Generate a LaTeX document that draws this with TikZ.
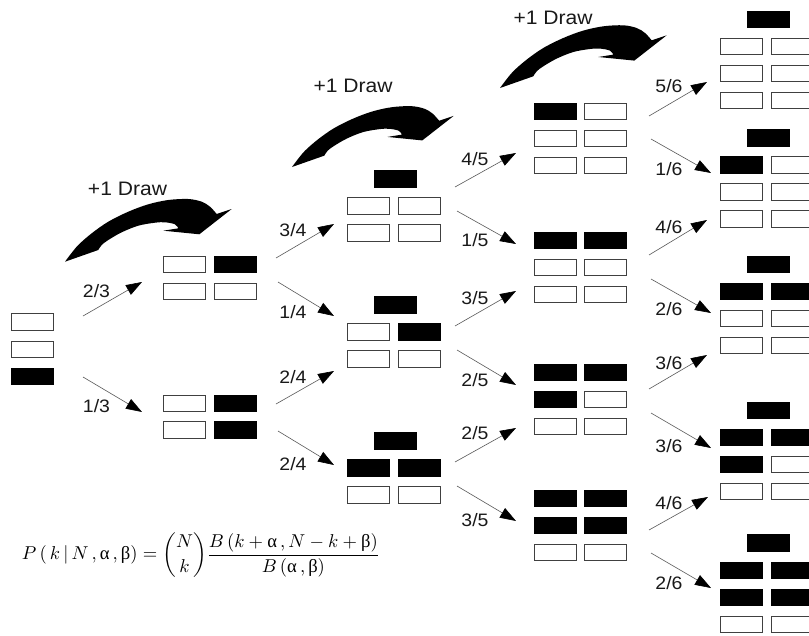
\documentclass[tikz,border=0pt]{standalone}
\usepackage{amsmath}
\usepackage{fontspec}
\usetikzlibrary{arrows.meta}
\newfontfamily\labfont[FakeStretch=1.08]{Liberation Sans}
\newfontfamily\grkfont{Liberation Serif}
\tikzset{
  wb/.style={draw=black!75, line width=0.9pt, fill=white, minimum width=42pt, minimum height=16.5pt, inner sep=0pt},
  bb/.style={draw=black, line width=0.9pt, fill=black, minimum width=42pt, minimum height=16.5pt, inner sep=0pt},
  arr/.style={draw=black!65, line width=0.6pt, -{Triangle[length=16pt,width=11pt,color=black,fill=black]}},
  lab/.style={font=\labfont\fontsize{18}{21}\selectfont, inner sep=0pt, text=black!90},
  drawlab/.style={font=\labfont\fontsize{19.5}{23}\selectfont, inner sep=0pt, text=black!90},
  bigcurve/.pic={
    \fill[black] (0,0) -- plot[smooth,tension=0.55] coordinates {(0,0) (5,-6.7) (13.3,-16.7) (26.7,-28.4) (43.3,-40) (63.3,-50) (83.3,-57.4) (103.3,-61.7) (123.3,-62.7) (136.7,-60) (145,-55) (151.7,-47.7)} -- (166.7,-52.7) -- (134.3,-27.4) -- (98.3,-31) -- (113.3,-33.4) -- plot[smooth,tension=0.55] coordinates {(113.3,-33.4) (110,-37.4) (100,-39.4) (90,-39) (73.3,-36) (56.7,-29.4) (43.3,-21.7) (36.7,-16.7) (33.3,-11.7)} -- cycle;
  }
}
\begin{document}
\begin{tikzpicture}[x=1pt,y=-1pt]
\useasboundingbox[fill=white] (0,0) rectangle (809,635);

% curved "+1 Draw" arrows
\pic (cv1) at (65,261.7) {bigcurve};
\pic[scale=0.97] (cv2) at (292,167) {bigcurve};
\pic (cv3) at (500,88) {bigcurve};
\node[drawlab] (d1) at (127.5,189) {+1 Draw};
\node[drawlab] (d2) at (353,86) {+1 Draw};
\node[drawlab] (d3) at (553,17.5) {+1 Draw};

% column 0
\node[wb] (c0r1) at (32.5,322) {};
\node[wb] (c0r2) at (32.5,349.5) {};
\node[bb] (c0r3) at (32.5,376.5) {};

% column 1
\node[wb] (c1a1l) at (184.5,264.5) {};
\node[bb] (c1a1r) at (235.5,264.5) {};
\node[wb] (c1a2l) at (184.5,291.5) {};
\node[wb] (c1a2r) at (235.5,291.5) {};
\node[wb] (c1b1l) at (184.5,403.5) {};
\node[bb] (c1b1r) at (235.5,403.5) {};
\node[wb] (c1b2l) at (184.5,430) {};
\node[bb] (c1b2r) at (235.5,430) {};

% column 2
\node[bb] (c2at) at (395,179) {};
\node[wb] (c2a1l) at (368,206) {};
\node[wb] (c2a1r) at (419,206) {};
\node[wb] (c2a2l) at (368,233) {};
\node[wb] (c2a2r) at (419,233) {};
\node[bb] (c2bt) at (395,305) {};
\node[wb] (c2b1l) at (368,332) {};
\node[bb] (c2b1r) at (419,332) {};
\node[wb] (c2b2l) at (368,359) {};
\node[wb] (c2b2r) at (419,359) {};
\node[bb] (c2ct) at (395,441) {};
\node[bb] (c2c1l) at (368,468) {};
\node[bb] (c2c1r) at (419,468) {};
\node[wb] (c2c2l) at (368,495) {};
\node[wb] (c2c2r) at (419,495) {};

% column 3
\node[bb] (c3a1l) at (555,111.5) {};
\node[wb] (c3a1r) at (605.5,111.5) {};
\node[wb] (c3a2l) at (555,138.5) {};
\node[wb] (c3a2r) at (605.5,138.5) {};
\node[wb] (c3a3l) at (555,165.5) {};
\node[wb] (c3a3r) at (605.5,165.5) {};
\node[bb] (c3b1l) at (555,240.5) {};
\node[bb] (c3b1r) at (605.5,240.5) {};
\node[wb] (c3b2l) at (555,267.5) {};
\node[wb] (c3b2r) at (605.5,267.5) {};
\node[wb] (c3b3l) at (555,294.5) {};
\node[wb] (c3b3r) at (605.5,294.5) {};
\node[bb] (c3c1l) at (555,372.5) {};
\node[bb] (c3c1r) at (605.5,372.5) {};
\node[bb] (c3c2l) at (555,399.5) {};
\node[wb] (c3c2r) at (605.5,399.5) {};
\node[wb] (c3c3l) at (555,426.5) {};
\node[wb] (c3c3r) at (605.5,426.5) {};
\node[bb] (c3d1l) at (555,498.5) {};
\node[bb] (c3d1r) at (605.5,498.5) {};
\node[bb] (c3d2l) at (555,525.5) {};
\node[bb] (c3d2r) at (605.5,525.5) {};
\node[wb] (c3d3l) at (555,552.5) {};
\node[wb] (c3d3r) at (605.5,552.5) {};

% column 4
\node[bb] (c4at) at (768.5,19.5) {};
\node[wb] (c4a1l) at (741.5,46.5) {};
\node[wb] (c4a1r) at (792.5,46.5) {};
\node[wb] (c4a2l) at (741.5,73.5) {};
\node[wb] (c4a2r) at (792.5,73.5) {};
\node[wb] (c4a3l) at (741.5,100.5) {};
\node[wb] (c4a3r) at (792.5,100.5) {};
\node[bb] (c4bt) at (768.5,138) {};
\node[bb] (c4b1l) at (741.5,165) {};
\node[wb] (c4b1r) at (792.5,165) {};
\node[wb] (c4b2l) at (741.5,192) {};
\node[wb] (c4b2r) at (792.5,192) {};
\node[wb] (c4b3l) at (741.5,219) {};
\node[wb] (c4b3r) at (792.5,219) {};
\node[bb] (c4ct) at (768.5,264.5) {};
\node[bb] (c4c1l) at (741.5,291.5) {};
\node[bb] (c4c1r) at (792.5,291.5) {};
\node[wb] (c4c2l) at (741.5,318.5) {};
\node[wb] (c4c2r) at (792.5,318.5) {};
\node[wb] (c4c3l) at (741.5,345.5) {};
\node[wb] (c4c3r) at (792.5,345.5) {};
\node[bb] (c4dt) at (768.5,410.5) {};
\node[bb] (c4d1l) at (741.5,437.5) {};
\node[bb] (c4d1r) at (792.5,437.5) {};
\node[bb] (c4d2l) at (741.5,464.5) {};
\node[wb] (c4d2r) at (792.5,464.5) {};
\node[wb] (c4d3l) at (741.5,491.5) {};
\node[wb] (c4d3r) at (792.5,491.5) {};
\node[bb] (c4et) at (768.5,543) {};
\node[bb] (c4e1l) at (741.5,570.5) {};
\node[bb] (c4e1r) at (792.5,570.5) {};
\node[bb] (c4e2l) at (741.5,597.5) {};
\node[bb] (c4e2r) at (792.5,597.5) {};
\node[wb] (c4e3l) at (741.5,624.5) {};
\node[wb] (c4e3r) at (792.5,624.5) {};

% arrow end points
\coordinate (s1) at (83,316);   \coordinate (e1) at (142,282);
\coordinate (s2) at (83,377);   \coordinate (e2) at (142,412);
\coordinate (s3) at (276,258);  \coordinate (e3) at (334,224);
\coordinate (s4) at (278,282);  \coordinate (e4) at (334,316);
\coordinate (s5) at (276,404);  \coordinate (e5) at (334,371);
\coordinate (s6) at (278,431);  \coordinate (e6) at (334,465);
\coordinate (s7) at (455,187);  \coordinate (e7) at (516,153);
\coordinate (s8) at (457,211);  \coordinate (e8) at (516,244);
\coordinate (s9) at (455,326);  \coordinate (e9) at (516,291);
\coordinate (s10) at (457,350); \coordinate (e10) at (516,385);
\coordinate (s11) at (455,462); \coordinate (e11) at (516,428);
\coordinate (s12) at (457,486); \coordinate (e12) at (516,521);
\coordinate (s13) at (649,116); \coordinate (e13) at (707,82);
\coordinate (s14) at (651,139); \coordinate (e14) at (711,173);
\coordinate (s15) at (649,255); \coordinate (e15) at (707,220);
\coordinate (s16) at (651,279); \coordinate (e16) at (711,313);
\coordinate (s17) at (649,389); \coordinate (e17) at (707,355);
\coordinate (s18) at (651,413); \coordinate (e18) at (711,448);
\coordinate (s19) at (649,530); \coordinate (e19) at (708,497);
\coordinate (s20) at (651,553); \coordinate (e20) at (711,588);

\foreach \i in {1,...,20}{ \draw[arr] (s\i) -- (e\i); }

% probability labels
\node[lab] (l1) at (96.5,291.5) {2/3};
\node[lab] (l2) at (96.5,406.5) {1/3};
\node[lab] (l3) at (293,230) {3/4};
\node[lab] (l4) at (293,312) {1/4};
\node[lab] (l5) at (293,377) {2/4};
\node[lab] (l6) at (293,464) {2/4};
\node[lab] (l7) at (475,159) {4/5};
\node[lab] (l8) at (475,240) {1/5};
\node[lab] (l9) at (475,298) {3/5};
\node[lab] (l10) at (475,380) {2/5};
\node[lab] (l11) at (475,433) {2/5};
\node[lab] (l12) at (475,520) {3/5};
\node[lab] (l13) at (669,86) {5/6};
\node[lab] (l14) at (669,169) {1/6};
\node[lab] (l15) at (669,227) {4/6};
\node[lab] (l16) at (669,309) {2/6};
\node[lab] (l17) at (669,363) {3/6};
\node[lab] (l18) at (669,446) {3/6};
\node[lab] (l19) at (669,503) {4/6};
\node[lab] (l20) at (669,583) {2/6};

% formula
\node[inner sep=0pt] (formula) at (201,555) {\resizebox{358pt}{!}{$P\left(\,k\,\middle|\,N\,,\mbox{\grkfont α}\,,\mbox{\grkfont β}\right)=\dbinom{N}{k}\dfrac{B\left(k+\mbox{\grkfont α}\,,N-k+\mbox{\grkfont β}\right)}{B\left(\mbox{\grkfont α}\,,\mbox{\grkfont β}\right)}$}};
\end{tikzpicture}
\end{document}
